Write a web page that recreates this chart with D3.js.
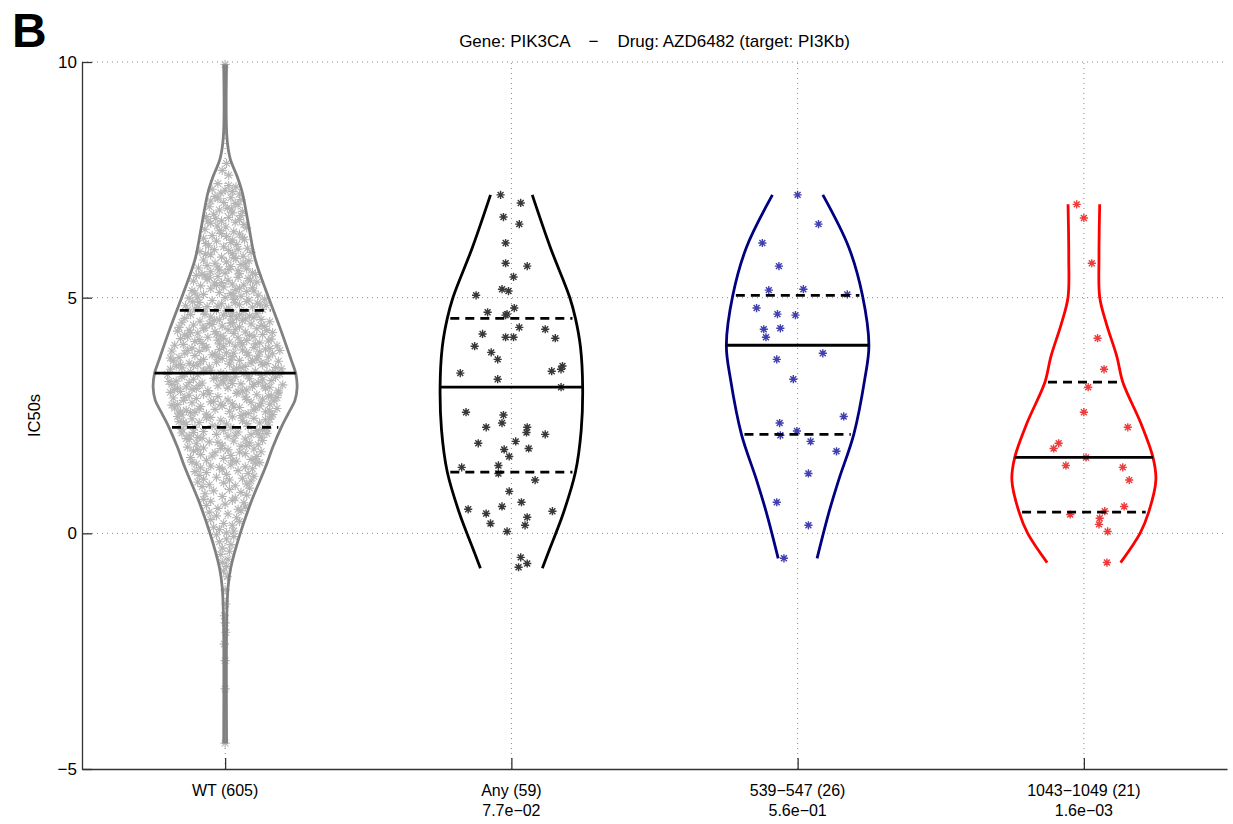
<!DOCTYPE html>
<html>
<head>
<meta charset="utf-8">
<script src="https://cdn.jsdelivr.net/npm/d3@7"></script>
<style>
  body { margin: 0; background: #fff; }
  svg text { font-family: "Liberation Sans", Arial, sans-serif; }
</style>
</head>
<body>
<figure id="violin" style="margin:0"></figure>
<script>
// groups and labels
const groups = ["WT (605)", "Any (59)", "539\u2212547 (26)", "1043\u22121049 (21)"];
const pValues = ["", "7.7e\u221202", "5.6e\u221201", "1.6e\u221203"];
const yTicks = [-5, 0, 5, 10];
const lineColors = ["#808080", "#000000", "#000080", "#ff0000"];
const pointColors = ["#b4b4b4", "#383838", "#4040b0", "#ee3c3c"];

// quartiles per group
const medians = [3.40, 3.10, 3.99, 1.61];
const upperQ = [4.73, 4.56, 5.05, 3.21];
const lowerQ = [2.25, 1.30, 2.10, 0.45];

// violin outlines: [IC50, relative half width]
const profileWT = [[9.95,0.02],[8.4,0.025],[7.95,0.07],[7.56,0.17],[7.22,0.24],[6.5,0.33],[5.8,0.42],[5.1,0.58],[4.37,0.76],[3.67,0.92],[3.4,0.98],[3.1,1.0],[2.82,0.97],[2.55,0.88],[2.25,0.78],[1.82,0.66],[1.4,0.56],[0.7,0.37],[0,0.21],[-0.72,0.08],[-1.15,0.04],[-1.85,0.022],[-4.46,0.02]];
const profileAny = [[7.18,0.29],[6.07,0.54],[5.01,0.81],[4.56,0.89],[3.95,0.96],[3.10,0.99],[2.19,0.97],[1.30,0.89],[0.42,0.72],[-0.30,0.54],[-0.74,0.43]];
const profile539 = [[7.18,0.35],[6.07,0.71],[5.05,0.90],[3.99,0.99],[3.25,0.93],[2.10,0.78],[1.13,0.57],[0.42,0.43],[-0.53,0.27]];
const profile1043 = [[6.98,0.22],[5.86,0.21],[5.01,0.22],[4.46,0.31],[3.74,0.46],[3.21,0.54],[2.34,0.79],[1.61,0.96],[1.13,1.0],[0.45,0.90],[0,0.78],[-0.62,0.51]];

// points: [jitter, IC50]
const pointsWT = [[0.0,9.95],[0.02,7.85],[-0.04,7.7],[0.05,7.6],
[-0.1,7.42],[0.05,7.38],[0.15,7.35],[-0.18,7.3],[0.0,7.28],[0.1,7.25],[-0.06,7.22],[0.2,7.2],[-0.14,7.15],[0.08,7.12],[0.22,7.08],[-0.2,7.05],[-0.02,7.02],[0.14,7.0],[-0.1,7.1],
[0.18,6.97],[-0.22,6.93],[0.03,6.9],[-0.08,6.86],[0.24,6.83],[0.1,6.8],[-0.16,6.77],[-0.26,6.72],[0.05,6.7],[0.2,6.66],[-0.05,6.63],[0.14,6.6],[-0.2,6.58],[0.26,6.55],[-0.11,6.52],[0.01,6.5],[0.09,6.88],[-0.13,6.68],[0.22,6.74],[-0.24,6.62],
[0.3,6.48],[-0.28,6.45],[-0.08,6.42],[0.12,6.4],[0.2,6.35],[-0.18,6.32],[0.02,6.3],[-0.3,6.26],[0.27,6.23],[-0.12,6.2],[0.08,6.17],[0.16,6.13],[-0.23,6.1],[-0.02,6.08],[0.31,6.05],[-0.15,6.02],[0.05,6.0],[0.24,6.28],[-0.27,6.15],[0.1,6.22],[-0.05,6.36],[0.18,6.03],
[-0.35,5.98],[0.36,5.96],[0.1,5.94],[-0.2,5.91],[0.25,5.88],[-0.05,5.86],[0.15,5.83],[-0.3,5.8],[0.33,5.78],[0.02,5.76],[-0.14,5.73],[0.22,5.7],[-0.25,5.68],[0.08,5.66],[-0.37,5.63],[0.3,5.61],[-0.08,5.59],[0.18,5.57],[-0.2,5.55],[0.38,5.53],[0.0,5.52],[-0.32,5.5],[0.12,5.85],[-0.1,5.65],[0.28,5.72],[0.05,5.6],[-0.27,5.93],[0.2,5.51],
[0.42,5.49],[-0.4,5.47],[-0.1,5.45],[0.18,5.43],[0.32,5.41],[-0.25,5.39],[0.04,5.37],[-0.44,5.35],[0.44,5.33],[-0.15,5.31],[0.1,5.29],[0.26,5.27],[-0.34,5.25],[-0.02,5.23],[0.38,5.21],[-0.2,5.19],[0.15,5.17],[-0.46,5.15],[0.3,5.13],[-0.08,5.11],[0.08,5.09],[-0.3,5.07],[0.46,5.05],[0.22,5.03],[-0.38,5.01],[0.0,5.0],[-0.22,5.42],[0.35,5.36],[-0.12,5.26],[0.2,5.2],[-0.42,5.1],[0.12,5.04],[-0.05,5.32],[0.4,5.14],[-0.28,5.46],
[-0.5,4.99],[0.55,4.97],[0.12,4.96],[-0.18,4.94],[0.3,4.92],[-0.36,4.9],[0.45,4.88],[-0.05,4.87],[0.2,4.85],[-0.55,4.83],[-0.25,4.81],[0.38,4.8],[0.05,4.78],[-0.42,4.76],[0.52,4.75],[-0.12,4.73],[0.26,4.71],[-0.3,4.7],[0.1,4.68],[0.44,4.66],[-0.48,4.64],[-0.02,4.63],[0.34,4.61],[-0.2,4.59],[0.16,4.57],[-0.56,4.56],[0.5,4.54],[-0.08,4.53],[0.24,4.51],[-0.35,4.5],[0.57,4.84],[-0.45,4.91],[0.02,4.72],[0.4,4.58],[-0.28,4.65],[0.14,4.89],[-0.15,4.52],[0.33,4.95],[-0.52,4.74],[0.08,4.6],[0.48,4.86],[-0.38,4.79],[0.2,4.64],[-0.1,4.82],[0.28,4.55],
[0.62,4.49],[-0.6,4.48],[0.1,4.47],[-0.22,4.45],[0.36,4.44],[-0.44,4.42],[0.5,4.41],[-0.04,4.4],[0.2,4.38],[-0.64,4.37],[-0.3,4.35],[0.44,4.34],[0.04,4.32],[-0.5,4.31],[0.58,4.3],[-0.14,4.28],[0.28,4.27],[-0.38,4.25],[0.12,4.24],[0.52,4.22],[-0.56,4.21],[-0.06,4.19],[0.4,4.18],[-0.24,4.16],[0.18,4.15],[-0.62,4.13],[0.64,4.12],[-0.1,4.1],[0.3,4.09],[-0.42,4.07],[0.06,4.06],[0.48,4.04],[-0.32,4.03],[-0.58,4.01],[0.24,4.0],[-0.18,4.43],[0.55,4.39],[-0.48,4.26],[0.34,4.2],[-0.02,4.14],[0.14,4.33],[-0.36,4.11],[0.6,4.08],[-0.66,4.29],[0.42,4.02],[-0.12,4.23],[0.08,4.46],[-0.28,4.36],[0.22,4.05],[-0.52,4.17],[0.66,4.26],[-0.08,4.02],
[-0.7,3.99],[0.72,3.98],[0.14,3.97],[-0.26,3.95],[0.4,3.94],[-0.46,3.93],[0.56,3.91],[-0.08,3.9],[0.24,3.89],[-0.74,3.87],[-0.36,3.86],[0.48,3.85],[0.02,3.83],[-0.56,3.82],[0.66,3.81],[-0.18,3.79],[0.32,3.78],[-0.42,3.77],[0.1,3.75],[0.6,3.74],[-0.64,3.73],[-0.04,3.71],[0.44,3.7],[-0.3,3.69],[0.2,3.67],[-0.72,3.66],[0.74,3.65],[-0.12,3.63],[0.36,3.62],[-0.5,3.61],[0.06,3.59],[0.52,3.58],[-0.38,3.57],[-0.68,3.55],[0.28,3.54],[-0.22,3.53],[0.7,3.52],[-0.6,3.51],[0.16,3.5],[-0.02,3.96],[0.62,3.92],[-0.52,3.88],[0.3,3.84],[-0.14,3.8],[0.46,3.76],[-0.76,3.72],[0.08,3.68],[-0.34,3.64],[0.58,3.6],[-0.44,3.56],[0.22,3.52],[0.76,3.88],[-0.1,3.74],[0.38,3.66],[-0.62,3.58],[0.12,3.82],[-0.28,3.94],[0.5,3.62],
[0.78,3.49],[-0.76,3.48],[0.12,3.47],[-0.28,3.45],[0.42,3.44],[-0.48,3.43],[0.58,3.41],[-0.06,3.4],[0.26,3.39],[-0.8,3.37],[-0.38,3.36],[0.5,3.35],[0.0,3.33],[-0.6,3.32],[0.7,3.31],[-0.16,3.29],[0.34,3.28],[-0.44,3.27],[0.08,3.25],[0.64,3.24],[-0.68,3.23],[-0.02,3.21],[0.46,3.2],[-0.32,3.19],[0.22,3.17],[-0.74,3.16],[0.8,3.15],[-0.1,3.13],[0.38,3.12],[-0.54,3.11],[0.04,3.09],[0.56,3.08],[-0.4,3.07],[-0.7,3.05],[0.3,3.04],[-0.24,3.03],[0.74,3.02],[-0.62,3.01],[0.18,3.0],[-0.2,3.46],[0.66,3.42],[-0.56,3.38],[0.32,3.34],[-0.12,3.3],[0.52,3.26],[-0.78,3.22],[0.1,3.18],[-0.36,3.14],[0.62,3.1],[-0.46,3.06],[0.24,3.02],[0.76,3.38],[-0.04,3.24],[0.4,3.16],[-0.66,3.08],[0.14,3.32],[-0.3,3.44],[0.54,3.12],[-0.5,3.2],[0.02,3.36],
[-0.76,2.99],[0.74,2.98],[0.16,2.97],[-0.3,2.95],[0.44,2.94],[-0.5,2.93],[0.6,2.91],[-0.1,2.9],[0.28,2.89],[-0.72,2.87],[-0.4,2.86],[0.52,2.85],[0.04,2.83],[-0.58,2.82],[0.68,2.81],[-0.2,2.79],[0.36,2.78],[-0.46,2.77],[0.1,2.75],[0.62,2.74],[-0.66,2.73],[-0.04,2.71],[0.48,2.7],[-0.34,2.69],[0.2,2.67],[-0.7,2.66],[0.72,2.65],[-0.14,2.63],[0.4,2.62],[-0.54,2.61],[0.06,2.59],[0.56,2.58],[-0.42,2.57],[-0.64,2.55],[0.32,2.54],[-0.26,2.53],[0.66,2.52],[-0.6,2.51],[0.22,2.5],[-0.22,2.96],[0.64,2.92],[-0.56,2.88],[0.3,2.84],[-0.16,2.8],[0.5,2.76],[-0.74,2.72],[0.12,2.68],[-0.36,2.64],[0.62,2.6],[-0.48,2.56],[0.26,2.52],[0.72,2.88],[-0.06,2.74],[0.42,2.66],[-0.62,2.58],
[0.64,2.49],[-0.66,2.48],[0.1,2.47],[-0.26,2.45],[0.4,2.44],[-0.46,2.43],[0.56,2.41],[-0.06,2.4],[0.24,2.39],[-0.64,2.37],[-0.36,2.35],[0.48,2.34],[0.02,2.32],[-0.54,2.31],[0.6,2.3],[-0.18,2.28],[0.32,2.27],[-0.42,2.25],[0.08,2.24],[0.58,2.22],[-0.6,2.21],[-0.02,2.19],[0.44,2.18],[-0.3,2.16],[0.18,2.15],[-0.6,2.13],[0.58,2.12],[-0.12,2.1],[0.36,2.09],[-0.5,2.07],[0.04,2.06],[0.5,2.04],[-0.38,2.03],[-0.54,2.01],[0.28,2.0],[-0.2,2.46],[0.62,2.42],[-0.58,2.36],[0.3,2.33],[-0.1,2.26],[0.52,2.2],[-0.44,2.14],[0.14,2.08],[-0.32,2.02],[0.46,2.11],
[-0.5,1.99],[0.52,1.97],[0.12,1.96],[-0.22,1.94],[0.34,1.92],[-0.4,1.9],[0.46,1.88],[-0.04,1.87],[0.22,1.85],[-0.52,1.83],[-0.3,1.81],[0.4,1.79],[0.04,1.77],[-0.44,1.75],[0.5,1.73],[-0.14,1.71],[0.28,1.69],[-0.34,1.67],[0.08,1.65],[0.44,1.63],[-0.48,1.61],[-0.02,1.59],[0.36,1.57],[-0.26,1.55],[0.16,1.53],[-0.46,1.51],[0.48,1.5],[-0.1,1.93],[0.3,1.86],[-0.38,1.78],[0.2,1.72],[-0.18,1.64],[0.42,1.58],[-0.06,1.8],[0.1,1.54],
[0.42,1.49],[-0.4,1.47],[0.08,1.45],[-0.2,1.43],[0.28,1.41],[-0.34,1.39],[0.38,1.37],[-0.04,1.35],[0.18,1.33],[-0.42,1.31],[-0.26,1.29],[0.32,1.27],[0.02,1.25],[-0.36,1.23],[0.4,1.21],[-0.12,1.19],[0.24,1.17],[-0.3,1.15],[0.06,1.13],[0.36,1.11],[-0.38,1.09],[-0.02,1.07],[0.3,1.05],[-0.22,1.03],[0.14,1.01],[-0.08,1.4],
[-0.32,0.99],[0.34,0.96],[0.06,0.93],[-0.16,0.9],[0.22,0.87],[-0.28,0.84],[0.3,0.81],[-0.04,0.78],[0.14,0.75],[-0.3,0.72],[-0.2,0.68],[0.26,0.65],[0.0,0.62],[-0.26,0.59],[0.28,0.56],[-0.1,0.53],[0.18,0.51],[0.1,0.7],
[0.22,0.48],[-0.22,0.45],[0.04,0.41],[-0.12,0.37],[0.16,0.33],[-0.2,0.29],[0.2,0.25],[-0.02,0.21],[0.1,0.17],[-0.16,0.13],[-0.08,0.08],[0.12,0.05],[0.02,0.01],
[-0.12,-0.03],[0.12,-0.07],[0.02,-0.12],[-0.08,-0.18],[0.08,-0.24],[-0.04,-0.31],[0.06,-0.38],[-0.06,-0.45],
[0.04,-0.55],[-0.04,-0.62],[0.02,-0.7],[-0.02,-0.8],[0.03,-0.92],
[0.0,-1.2],[0.01,-1.5],[-0.01,-1.75],[0.0,-1.9],[0.01,-2.1],[-0.01,-2.35],[0.0,-2.7],[0.0,-3.3],[0.0,-4.45]];

const pointsAny = [[-0.15,7.18],[0.13,7.01],[-0.11,6.71],[0.11,6.56],[-0.08,6.16],[-0.08,5.73],[0.22,5.67],[0.03,5.44],[-0.49,5.05],[-0.13,5.18],[-0.04,5.14],[0.04,4.78],[-0.33,4.69],[-0.08,4.63],[-0.06,4.65],[0.11,4.37],[0.47,4.33],[-0.40,4.23],[-0.08,4.16],[0.03,4.16],[0.61,4.14],[-0.51,3.97],[-0.28,3.84],[-0.19,3.69],[-0.71,3.40],[-0.19,3.27],[0.56,3.44],[0.71,3.55],[0.69,3.48],[0.69,3.10],[-0.63,2.57],[-0.11,2.51],[-0.13,2.34],[-0.35,2.25],[0.22,2.25],[0.21,2.14],[0.47,2.10],[-0.46,1.91],[0.06,1.95],[-0.10,1.78],[0.24,1.80],[-0.03,1.63],[-0.18,1.44],[-0.69,1.40],[-0.18,1.27],[0.33,1.13],[-0.03,0.89],[-0.13,0.57],[0.14,0.66],[-0.60,0.51],[-0.35,0.42],[0.57,0.47],[0.22,0.34],[-0.29,0.21],[0.19,0.17],[-0.06,0.04],[0.13,-0.51],[0.22,-0.64],[0.10,-0.72]];
const points539 = [[0.0,7.18],[0.29,6.56],[-0.49,6.16],[-0.26,5.67],[-0.40,5.16],[0.08,5.18],[0.69,5.07],[-0.57,4.78],[-0.28,4.65],[-0.03,4.63],[-0.47,4.33],[-0.24,4.35],[-0.44,4.16],[0.35,3.82],[-0.29,3.69],[-0.06,3.27],[0.64,2.48],[-0.25,2.34],[-0.01,2.17],[-0.24,2.08],[0.18,1.95],[0.54,1.74],[0.15,1.27],[-0.29,0.66],[0.15,0.17],[-0.19,-0.53]];
const points1043 = [[-0.10,6.98],[0.0,6.69],[0.11,5.73],[0.19,4.14],[0.28,3.48],[0.06,3.10],[0.0,2.57],[0.61,2.25],[-0.35,1.91],[-0.42,1.80],[0.03,1.61],[-0.25,1.44],[0.54,1.40],[0.63,1.13],[0.56,0.57],[0.29,0.47],[-0.19,0.40],[0.22,0.32],[0.21,0.19],[0.33,0.04],[0.32,-0.62]];

const profiles = [profileWT, profileAny, profile539, profile1043];
const pointSets = [pointsWT, pointsAny, points539, points1043];

const width = 1233, height = 824;
const margin = { top: 62, right: 6, bottom: 55, left: 82 };

const svg = d3.select("figure#violin")
  .append("svg")
  .attr("width", width)
  .attr("height", height);

const x = d3.scalePoint()
  .domain(groups)
  .range([margin.left, width - margin.right])
  .padding(0.5);

const y = d3.scaleLinear()
  .domain([-5, 10])
  .range([height - margin.bottom, margin.top]);

// half width of a violin, in px
const w = d3.scaleLinear().domain([0, 1]).range([0, 72]);

const x0 = margin.left, x1 = width - margin.right;
const y0 = y(-5), y1 = y(10);

// dotted grid
svg.append("g")
  .selectAll("line")
  .data(yTicks.filter(t => t > -5))
  .join("line")
  .attr("x1", x0).attr("x2", x1)
  .attr("y1", d => y(d)).attr("y2", d => y(d))
  .attr("stroke", "#888").attr("stroke-width", 1)
  .attr("stroke-dasharray", "1,4");

svg.append("g")
  .selectAll("line")
  .data(groups)
  .join("line")
  .attr("x1", d => x(d)).attr("x2", d => x(d))
  .attr("y1", y0).attr("y2", y1)
  .attr("stroke", "#888").attr("stroke-width", 1)
  .attr("stroke-dasharray", "1,4");

// axes
const yAxis = svg.append("g")
  .attr("transform", `translate(${x0},0)`)
  .call(d3.axisLeft(y).tickValues(yTicks).tickSizeInner(-10).tickSizeOuter(0)
    .tickFormat(d => d < 0 ? "\u2212" + Math.abs(d) : d));
yAxis.select(".domain").attr("stroke", "#333").attr("stroke-width", 1.3);
yAxis.selectAll(".tick line").attr("stroke", "#333").attr("stroke-width", 1.3);
yAxis.selectAll(".tick text")
  .attr("x", -5)
  .attr("font-size", 17)
  .attr("fill", "#000");

const xAxis = svg.append("g")
  .attr("transform", `translate(0,${y0})`)
  .call(d3.axisBottom(x).tickSizeInner(-11).tickSizeOuter(0).tickFormat(""));
xAxis.select(".domain").attr("stroke", "#333").attr("stroke-width", 1.3);
xAxis.selectAll(".tick line").attr("stroke", "#333").attr("stroke-width", 1.3);

svg.append("g")
  .selectAll("text")
  .data(groups)
  .join("text")
  .attr("x", d => x(d))
  .attr("y", 796)
  .attr("text-anchor", "middle")
  .attr("font-size", 16)
  .text(d => d);

svg.append("g")
  .selectAll("text")
  .data(pValues)
  .join("text")
  .attr("x", (d, i) => x(groups[i]))
  .attr("y", 816)
  .attr("text-anchor", "middle")
  .attr("font-size", 16)
  .text(d => d);

// y label
svg.append("text")
  .attr("transform", `translate(40,${(y0 + y1) / 2}) rotate(-90)`)
  .attr("text-anchor", "middle")
  .attr("font-size", 16.5)
  .text("IC50s");

// title
svg.append("text")
  .attr("x", (x0 + x1) / 2)
  .attr("y", 47)
  .attr("text-anchor", "middle")
  .attr("font-size", 17)
  .attr("xml:space", "preserve")
  .style("white-space", "pre")
  .text("Gene: PIK3CA    \u2212    Drug: AZD6482 (target: PI3Kb)");

svg.append("text")
  .attr("x", 12)
  .attr("y", 47)
  .attr("font-size", 48)
  .attr("font-weight", "bold")
  .text("B");

// asterisk marker
const star = r => {
  const d = r * 0.72;
  return `M${-r},0H${r}M0,${-r}V${r}M${-d},${-d}L${d},${d}M${-d},${d}L${d},${-d}`;
};

groups.forEach((g, i) => {
  const cx = x(g);
  const prof = profiles[i];
  const side = s => d3.line()
    .x(d => cx + s * w(d[1]))
    .y(d => y(d[0]))
    .curve(d3.curveCatmullRom.alpha(0.5));

  const gv = svg.append("g");

  // points
  gv.selectAll("path.pt")
    .data(pointSets[i])
    .join("path")
    .attr("class", "pt")
    .attr("transform", d => `translate(${cx + w(d[0])},${y(d[1])})`)
    .attr("d", star(i === 0 ? 4.6 : 4.1))
    .attr("stroke", pointColors[i])
    .attr("stroke-width", i === 0 ? 1.1 : 1.4)
    .attr("fill", "none");

  // outline
  [-1, 1].forEach(s => {
    gv.append("path")
      .attr("d", side(s)(prof))
      .attr("fill", "none")
      .attr("stroke", lineColors[i])
      .attr("stroke-width", 2.8);
  });

  // width at a given value
  const widthAt = d3.scaleLinear()
    .domain(prof.map(d => d[0]))
    .range(prof.map(d => d[1]));

  gv.append("line")
    .attr("x1", cx - w(widthAt(medians[i]))).attr("x2", cx + w(widthAt(medians[i])))
    .attr("y1", y(medians[i])).attr("y2", y(medians[i]))
    .attr("stroke", "#000").attr("stroke-width", 2.8);

  [upperQ[i], lowerQ[i]].forEach(q => {
    const hw = w(widthAt(q)) - 3;
    gv.append("line")
      .attr("x1", cx - hw).attr("x2", cx + hw)
      .attr("y1", y(q)).attr("y2", y(q))
      .attr("stroke", "#000").attr("stroke-width", 2.8)
      .attr("stroke-dasharray", "9,6");
  });
});
</script>
</body>
</html>
